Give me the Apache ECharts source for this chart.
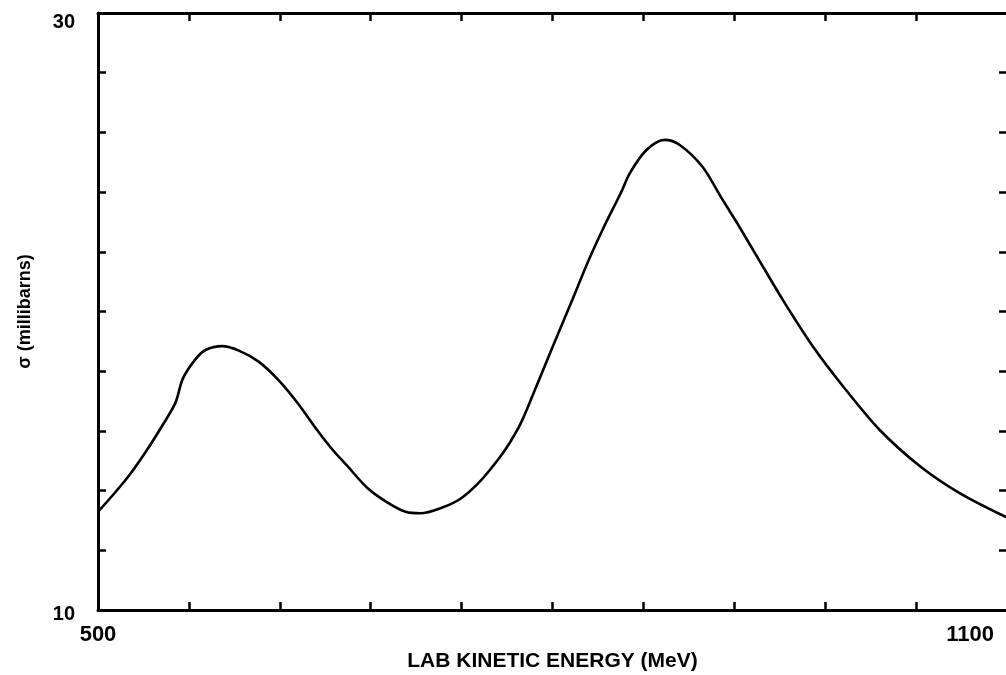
<!DOCTYPE html>
<html>
<head>
<meta charset="utf-8">
<style>
  html, body { margin: 0; padding: 0; background: #fff; }
  #chart { width: 1006px; height: 675px; }
</style>
<script src="https://cdn.jsdelivr.net/npm/echarts@6/dist/echarts.min.js"></script>
</head>
<body>
<div id="chart"></div>
<script>
// Lab kinetic energy (MeV) and total cross section (millibarns)
const energy = [500, 511, 520, 531, 542, 551, 556, 564, 571, 582, 593, 606, 619, 632, 643, 654, 665, 678,
                692, 703, 713, 726, 739, 752, 765, 772, 779, 787, 801, 814, 823, 834, 845, 851, 862, 874,
                884, 899, 911, 922, 935, 952, 972, 992, 1016, 1043, 1069, 1100];
const sigma = [13.29, 13.92, 14.47, 15.26, 16.14, 16.93, 17.75, 18.38, 18.71, 18.84, 18.69, 18.32, 17.71,
               16.92, 16.14, 15.42, 14.80, 14.08, 13.57, 13.29, 13.24, 13.41, 13.72, 14.30, 15.10, 15.62,
               16.25, 17.20, 18.93, 20.50, 21.62, 22.84, 23.96, 24.63, 25.41, 25.75, 25.58, 24.85, 23.85,
               22.95, 21.84, 20.39, 18.82, 17.48, 16.03, 14.80, 13.91, 13.10];

const xTickLabels = [500, 1100];
const yTickLabels = [10, 30];

const FONT = '"Liberation Sans", Arial, sans-serif';
const INK = '#000';

const points = energy.map((e, i) => [e, sigma[i]]);

const chart = echarts.init(document.getElementById('chart'), null, { renderer: 'canvas' });

const frameLine = { show: true, onZero: false, lineStyle: { color: INK, width: 3 } };
const inTick = { show: true, inside: true, length: 8, lineStyle: { color: INK, width: 2.5 } };

chart.setOption({
  animation: false,
  backgroundColor: '#fff',
  grid: { left: 98, top: 13, right: -1, bottom: 65, containLabel: false, outerBoundsMode: 'none' },
  xAxis: [
    {
      type: 'value', min: 500, max: 1100, interval: 60, position: 'bottom',
      axisLine: frameLine, axisTick: inTick, splitLine: { show: false },
      name: 'LAB KINETIC ENERGY (MeV)', nameLocation: 'middle', nameGap: 38,
      nameTextStyle: { fontFamily: FONT, fontWeight: 'bold', fontSize: 21, color: INK },
      axisLabel: {
        show: true, margin: 14, fontFamily: FONT, fontWeight: 'bold', fontSize: 22, color: INK,
        formatter: v => {
          if (v === xTickLabels[0]) return '{a|' + v + '}';
          if (v === xTickLabels[1]) return '{a|' + v + '}{s| }';
          return '';
        },
        rich: {
          a: { fontFamily: FONT, fontWeight: 'bold', fontSize: 22, color: INK },
          s: { width: 74, fontSize: 22 }
        }
      }
    },
    {
      type: 'value', min: 500, max: 1100, interval: 60, position: 'top',
      axisLine: frameLine, axisTick: inTick, axisLabel: { show: false }, splitLine: { show: false }
    }
  ],
  yAxis: [
    {
      type: 'value', min: 10, max: 30, interval: 2, position: 'left',
      axisLine: frameLine, axisTick: inTick, splitLine: { show: false },
      name: 'σ (millibarns)', nameLocation: 'middle', nameGap: 64,
      nameTextStyle: { fontFamily: FONT, fontWeight: 'bold', fontSize: 18, color: INK },
      axisLabel: {
        show: true, margin: 23, fontFamily: FONT, fontWeight: 'bold', fontSize: 20, color: INK,
        formatter: v => {
          if (v === yTickLabels[1]) return '{top|' + v + '}';
          if (v === yTickLabels[0]) return '{bot|' + v + '}';
          return '';
        },
        rich: {
          top: { fontFamily: FONT, fontWeight: 'bold', fontSize: 20, color: INK, padding: [18, 0, 0, 0] },
          bot: { fontFamily: FONT, fontWeight: 'bold', fontSize: 20, color: INK, padding: [9, 0, 0, 0] }
        }
      }
    },
    {
      type: 'value', min: 10, max: 30, interval: 2, position: 'right',
      axisLine: frameLine, axisTick: inTick, axisLabel: { show: false }, splitLine: { show: false }
    }
  ],
  series: [
    {
      type: 'line',
      data: points,
      smooth: 0.3,
      symbol: 'none',
      clip: true,
      lineStyle: { color: INK, width: 2.6 }
    }
  ]
});
</script>
</body>
</html>
